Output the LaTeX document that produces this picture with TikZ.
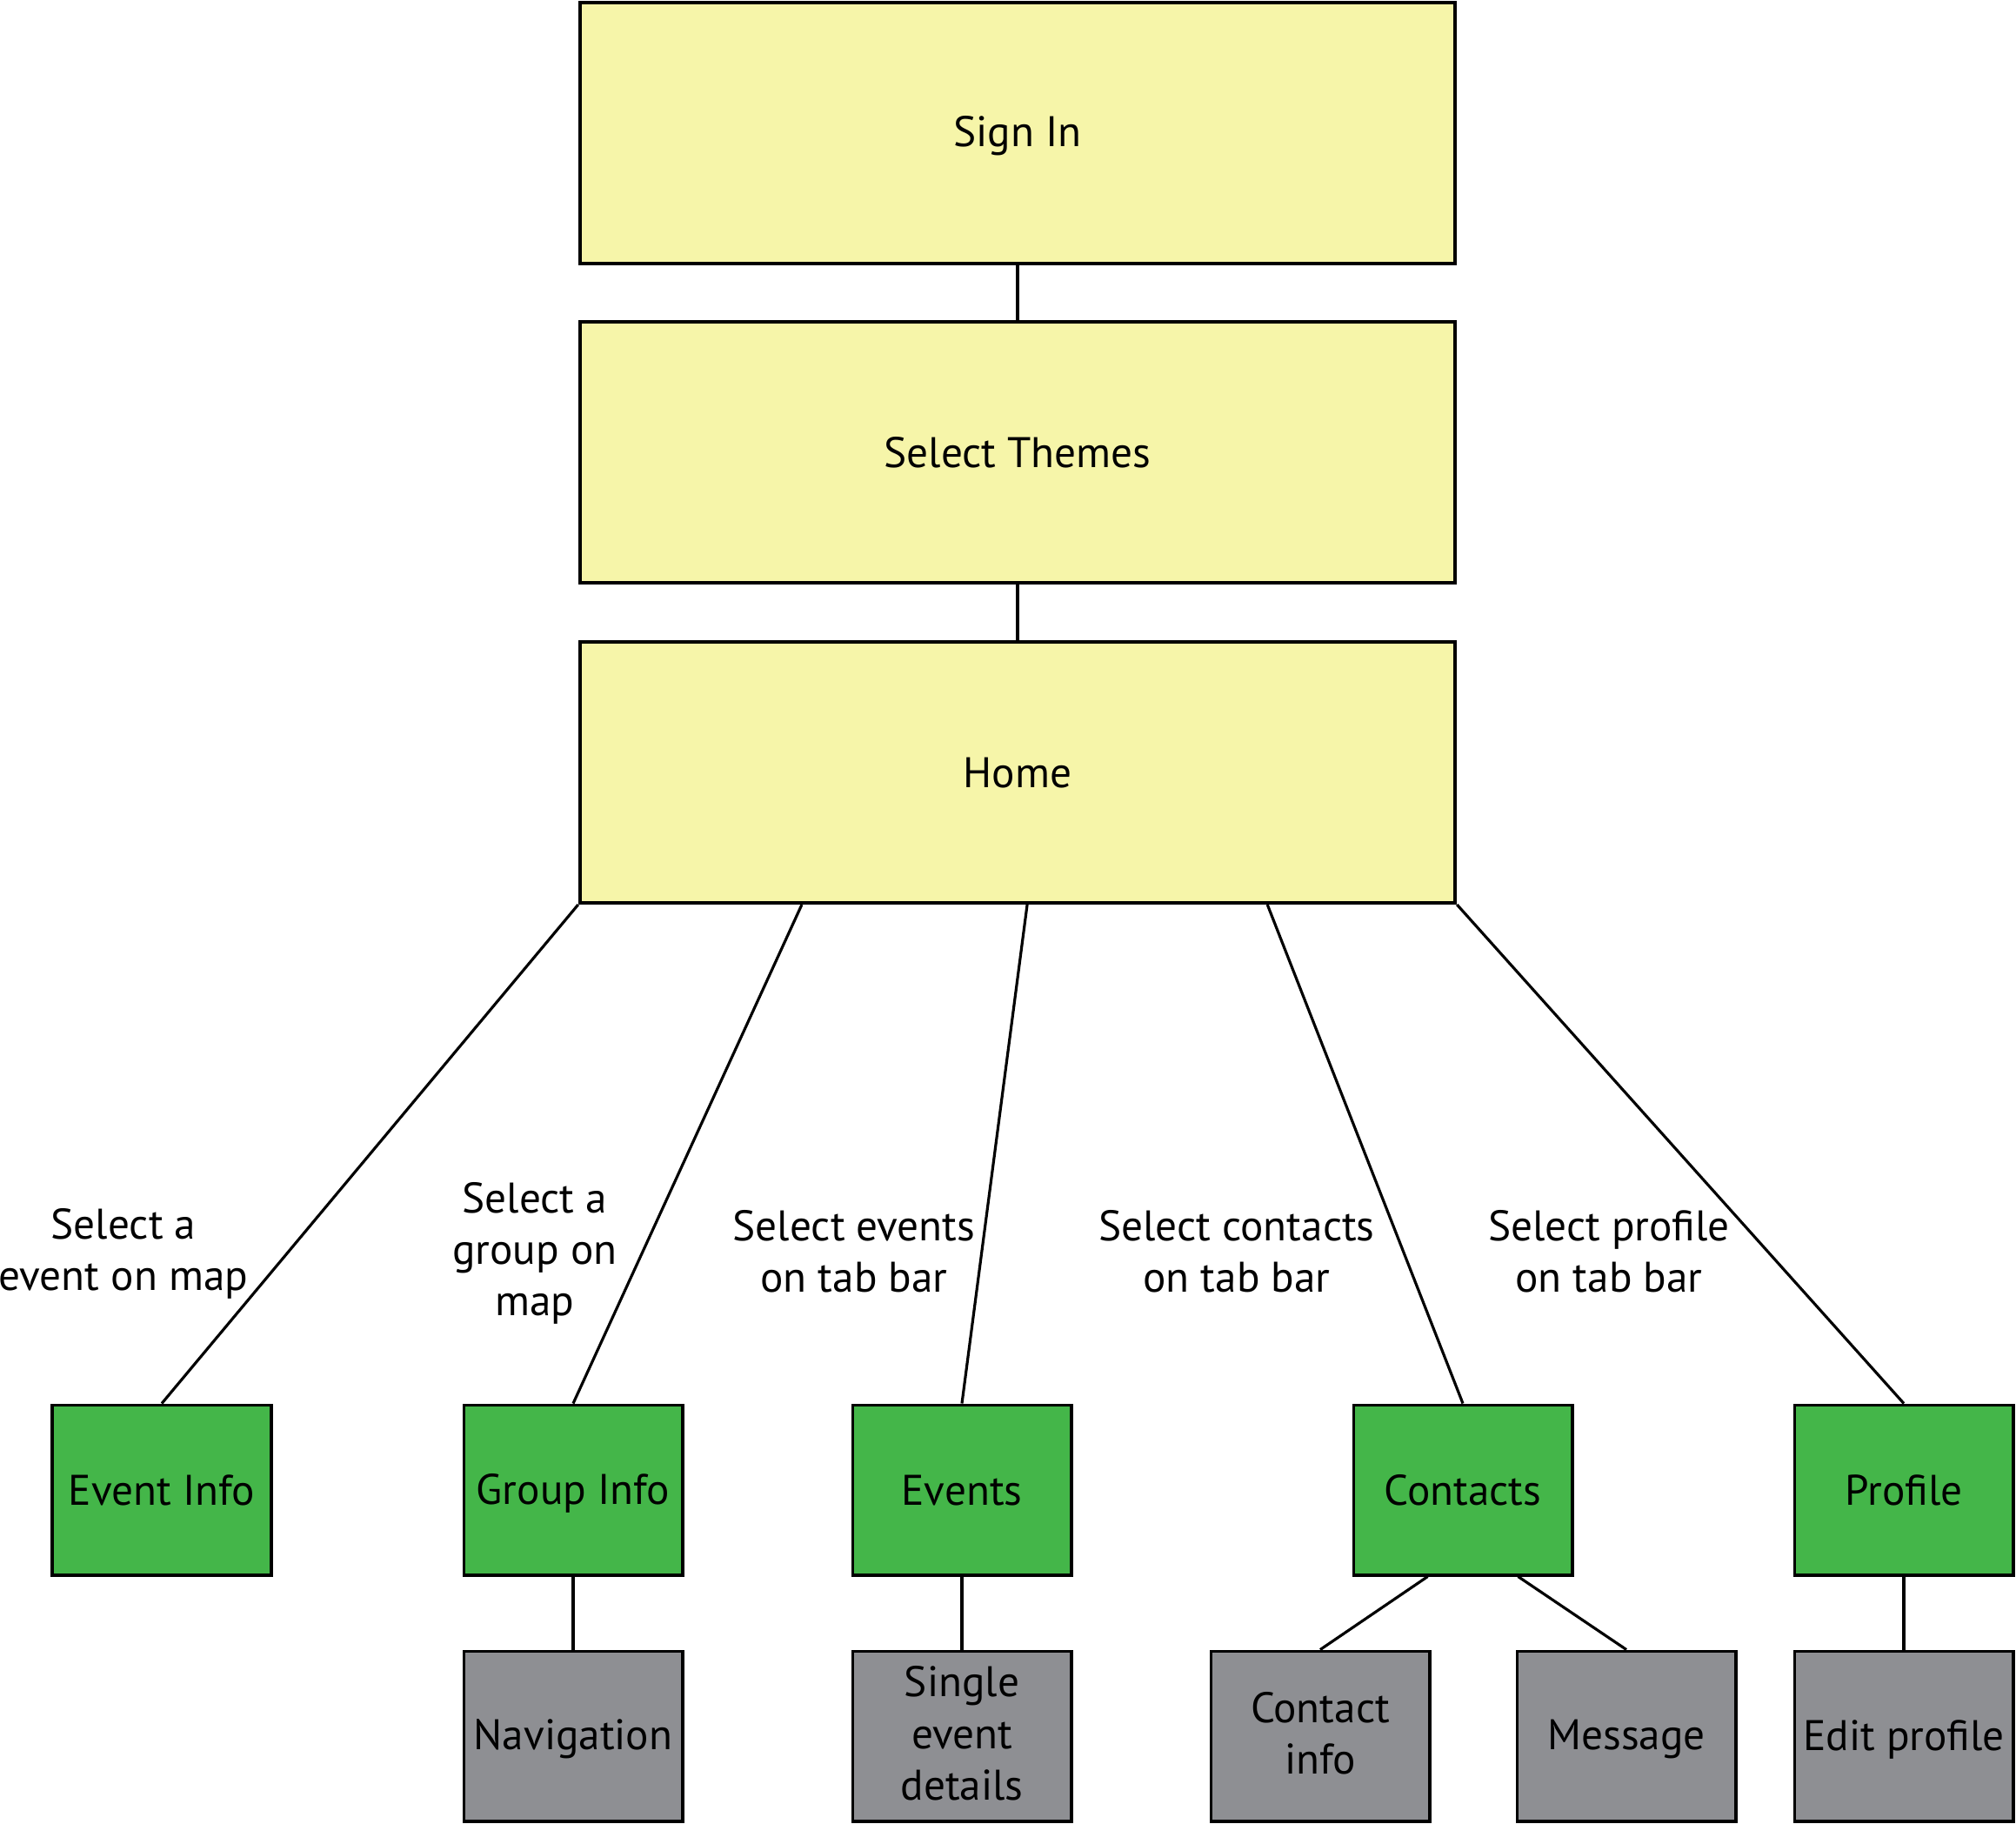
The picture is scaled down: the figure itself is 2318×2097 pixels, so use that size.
\documentclass[tikz,border=0pt]{standalone}
\usepackage{fontspec}
\setmainfont{PT Sans}
\definecolor{pageyellow}{HTML}{F6F5A9}
\definecolor{tabgreen}{HTML}{44B649}
\definecolor{subgray}{HTML}{8E8F93}
\newcommand\boxstrut{\rule[-2pt]{0pt}{14pt}}
\tikzset{
    page/.style={draw, line width=1.1pt, fill=pageyellow, minimum width=10.06cm, minimum height=3cm, execute at begin node=\boxstrut, execute at end node=\boxstrut, font=\fontsize{14}{16.8}\selectfont},
    tab/.style={draw, line width=1.1pt, fill=tabgreen, minimum width=2.51cm, minimum height=1.95cm, inner sep=1pt, align=center, execute at begin node=\boxstrut, execute at end node=\boxstrut, font=\fontsize{14}{16.8}\selectfont},
    sub/.style={tab, fill=subgray},
    hint/.style={align=center, font=\fontsize{14}{16.8}\selectfont},
    link/.style={line width=0.9pt}
}
\begin{document}
\begin{tikzpicture}[x=0.01cm, y=-0.01cm]
    \useasboundingbox (0,0) rectangle (2318,2097);
    % 主流程
    \node[page] (signin) at (1170,153) {Sign In};
    \node[page] (themes) at (1170,520) {Select Themes};
    \node[page] (home) at (1170,888) {Home};

    % 分頁
    \node[tab] (eventinfo) at (186,1713) {Event Info};
    \node[tab] (groupinfo) at (659,1713) {Group Info};
    \node[tab] (events) at (1106,1713) {Events};
    \node[tab] (contacts) at (1682,1713) {Contacts};
    \node[tab] (profile) at (2189,1713) {Profile};

    % 子頁面
    \node[sub] (navigation) at (659,1996) {Navigation};
    \node[sub] (details) at (1106,1996) {Single\\event\\details};
    \node[sub] (contactinfo) at (1518,1996) {Contact\\info};
    \node[sub] (message) at (1870,1996) {Message};
    \node[sub] (editprofile) at (2189,1996) {Edit profile};

    % 說明文字
    \node[hint] (hintevent) at (142,1441) {Select a\\event on map};
    \node[hint] (hintgroup) at (615,1441) {Select a\\group on\\map};
    \node[hint] (hintevents) at (982,1439) {Select events\\on tab bar};
    \node[hint] (hintcontacts) at (1422,1439) {Select contacts\\on tab bar};
    \node[hint] (hintprofile) at (1850,1439) {Select profile\\on tab bar};

    % 連接點
    \coordinate (h2) at ([xshift=2.57cm]home.south west);
    \coordinate (h3) at ([xshift=5.16cm]home.south west);
    \coordinate (h4) at ([xshift=7.92cm]home.south west);
    \coordinate (c1) at ([xshift=0.87cm]contacts.south west);
    \coordinate (c2) at ([xshift=-0.64cm]contacts.south east);

    % 畫出邊
    \draw[link] (signin) -- (themes);
    \draw[link] (themes) -- (home);
    \draw[link] (home.south west) -- (eventinfo.north);
    \draw[link] (h2) -- (groupinfo.north);
    \draw[link] (h3) -- (events.north);
    \draw[link] (h4) -- (contacts.north);
    \draw[link] (home.south east) -- (profile.north);
    \draw[link] (groupinfo) -- (navigation);
    \draw[link] (events) -- (details);
    \draw[link] (c1) -- (contactinfo.north);
    \draw[link] (c2) -- (message.north);
    \draw[link] (profile) -- (editprofile);
\end{tikzpicture}
\end{document}
